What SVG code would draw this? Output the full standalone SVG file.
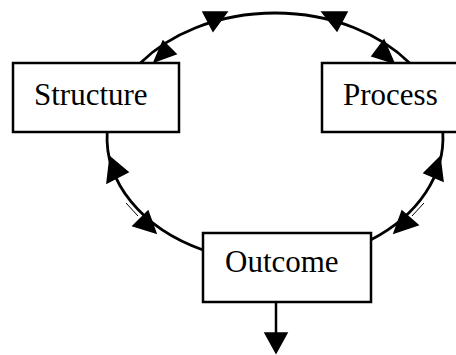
<svg xmlns="http://www.w3.org/2000/svg" width="456" height="355" viewBox="0 0 456 355">
<style>
.box{fill:#fff;stroke:#000;stroke-width:2.5}
.lbl{font-family:"Liberation Serif","Times New Roman",serif;font-size:31px;fill:#000}
.arc{fill:none;stroke:#000;stroke-width:2.8}
.head{fill:#000;stroke:#000;stroke-width:1.5;stroke-linejoin:miter}
.thin{fill:none;stroke:#000;stroke-width:1}
</style>
<rect width="456" height="355" fill="#fff"/>
<g id="connectors">
<path class="arc" d="M 140.4 63 A 168 124.5 0 0 1 409.6 63"/>
<path class="arc" d="M 107.2 132 A 168 124.5 0 0 0 203 250"/>
<path class="arc" d="M 442.8 132 A 168 124.5 0 0 1 371 239.7"/>
<path class="thin" d="M 126 203 L 138 216"/>
<path class="thin" d="M 424 203 L 412 216"/>
<polygon class="head" points="203,12 227,12 213,31"/>
<polygon class="head" points="322,12 347,12 337,31"/>
<polygon class="head" points="163,41 176,54 154,62"/>
<polygon class="head" points="384,40 372,56 394,63"/>
<polygon class="head" points="110,157 107,183 128,172"/>
<polygon class="head" points="156,233 133,226 148,211"/>
<polygon class="head" points="440,157 424,173 443,181"/>
<polygon class="head" points="394,233 402,211 418,225"/>
<line x1="276" y1="302" x2="276" y2="335" stroke="#000" stroke-width="2.5"/>
<polygon class="head" points="265,333 287,333 276,353"/>
</g>
<g id="structure">
<rect class="box" x="13" y="63" width="166" height="69"/>
<text class="lbl" x="34" y="105">Structure</text>
</g>
<g id="process">
<rect class="box" x="322" y="63" width="168" height="69"/>
<text class="lbl" x="343" y="105">Process</text>
</g>
<g id="outcome">
<rect class="box" x="203" y="233" width="168" height="69"/>
<text class="lbl" x="225" y="272">Outcome</text>
</g>
</svg>
